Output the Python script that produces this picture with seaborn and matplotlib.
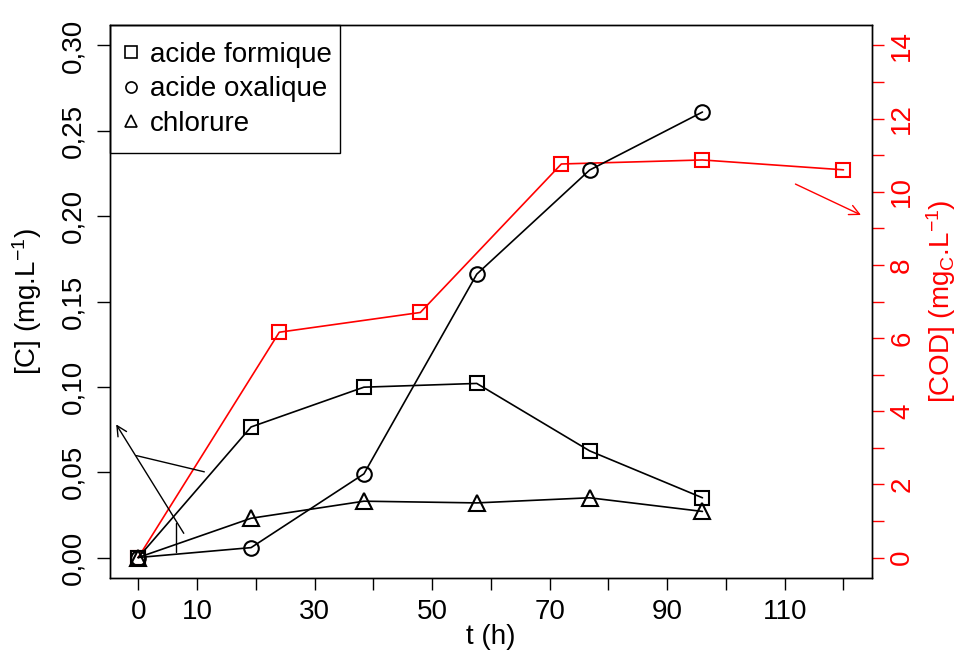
import matplotlib
matplotlib.use("Agg")
import matplotlib.pyplot as plt
import seaborn as sns
import numpy as np
from matplotlib.lines import Line2D
from matplotlib.patches import Rectangle

sns.set_theme(style="white")
plt.rcParams['font.family'] = ['Liberation Sans', 'DejaVu Sans']
plt.rcParams['mathtext.fontset'] = 'custom'
plt.rcParams['mathtext.rm'] = 'Liberation Sans'
plt.rcParams['mathtext.it'] = 'Liberation Sans'
for k in ['text.color', 'axes.labelcolor', 'xtick.color', 'ytick.color', 'axes.edgecolor']:
    plt.rcParams[k] = 'black'

# ---- data ----
t_black = [0, 19.2, 38.4, 57.6, 76.8, 96]
formique = [0.0, 0.0765, 0.0998, 0.102, 0.0625, 0.035]
oxalique = [0.0, 0.0058, 0.049, 0.166, 0.227, 0.261]
chlorure = [0.0, 0.023, 0.033, 0.032, 0.035, 0.027]

t_cod = [0, 24, 48, 72, 96, 120]
cod = [0.0, 6.16, 6.70, 10.76, 10.87, 10.6]

legend_labels = ["acide formique", "acide oxalique", "chlorure"]
x_ticks = list(range(0, 121, 10))
x_ticklabels = ["0", "10", "", "30", "", "50", "", "70", "", "90", "", "110", ""]
yl_ticks = [0.0, 0.05, 0.10, 0.15, 0.20, 0.25, 0.30]
yl_ticklabels = ["0,00", "0,05", "0,10", "0,15", "0,20", "0,25", "0,30"]
yr_major = [0, 2, 4, 6, 8, 10, 12, 14]
yr_minor = list(range(0, 15))

# annotation arrows (data coordinates)
arrow1 = ((8.0, 0.0128), (-4.0, 0.0794))
line2 = ((-0.3, 0.0597), (11.25, 0.0502))
line3 = ((6.5, 0.003), (6.5, 0.0204))
red_arrow = ((111.4, 0.2195), (123.4, 0.200))

W, H = 956, 659
L, R, T, B = 110, 871.7, 25, 578
fig = plt.figure(figsize=(W/100, H/100), dpi=100)
ax = fig.add_axes([L/W, 1-B/H, (R-L)/W, (B-T)/H])
ax2 = ax.twinx()
ax.set_zorder(ax2.get_zorder() + 1)
ax.patch.set_visible(False)

ms = 10
lw = 1.2
common = dict(color="black", linewidth=lw, markerfacecolor="none",
              markeredgewidth=1.5, markeredgecolor="black")
sns.lineplot(x=t_black, y=formique, marker="s", markersize=ms, ax=ax, **common)
sns.lineplot(x=t_black, y=oxalique, marker="o", markersize=ms + 0.5, ax=ax, **common)
sns.lineplot(x=t_black, y=chlorure, marker="^", markersize=ms + 2, ax=ax, **common)

ax.set_xlim(-4.8, 124.8)
ax.set_ylim(-0.012, 0.312)
ax.set_xticks(x_ticks)
ax.set_xticklabels(x_ticklabels)
ax.set_yticks(yl_ticks)
ax.set_yticklabels(yl_ticklabels, rotation=90, va="center")
ax.tick_params(axis="x", direction="out", length=8.8, width=1, labelsize=20, pad=6.3, bottom=True)
ax.tick_params(axis="y", direction="out", length=9.3, width=1, labelsize=20, pad=7.8, left=True)
ax.set_xlabel("t (h)", fontsize=20)
ax.xaxis.set_label_coords(0.5, -0.083)
ax.set_ylabel(r"[C] (mg.L$^{-1}$)", fontsize=20)
ax.yaxis.set_label_coords(-0.0866, 0.5)
for s in ax.spines.values():
    s.set_color("black")
    s.set_linewidth(1)

sns.lineplot(x=t_cod, y=cod, marker="s", ax=ax2, color="red", linewidth=lw,
             markersize=ms, markerfacecolor="none", markeredgewidth=1.5,
             markeredgecolor="red")
ax2.set_ylim(-0.012*14/0.3, 0.312*14/0.3)
ax2.set_yticks(yr_major)
ax2.set_yticks(yr_minor, minor=True)
ax2.set_yticklabels([str(v) for v in yr_major], rotation=90, va="center")
ax2.tick_params(axis="y", which="both", direction="out", length=8.6, width=1,
                colors="red", labelsize=20, pad=4, right=True)
ax2.set_ylabel(r"[COD] (mg$_{\mathrm{C}}$.L$^{-1}$)", fontsize=20, color="red")
ax2.yaxis.set_label_coords(1.0687, 0.5)
for name, s in ax2.spines.items():
    s.set_color("black")
    s.set_linewidth(1)

# arrows
ax.annotate("", xy=arrow1[1], xytext=arrow1[0],
            arrowprops=dict(arrowstyle="->", color="black", lw=1, mutation_scale=18))
ax.plot([line2[0][0], line2[1][0]], [line2[0][1], line2[1][1]], color="black", lw=1)
ax.plot([line3[0][0], line3[1][0]], [line3[0][1], line3[1][1]], color="black", lw=1)
ax.annotate("", xy=red_arrow[1], xytext=red_arrow[0],
            arrowprops=dict(arrowstyle="->", color="red", lw=1, mutation_scale=18))

handles = [Line2D([], [], marker=m, linestyle="none", markerfacecolor="none",
                  markeredgecolor="black", markersize=sz, markeredgewidth=1.2)
           for m, sz in zip(["s", "o", "^"], [8, 8, 9])]
leg = ax.legend(handles, legend_labels, loc="upper left", bbox_to_anchor=(0, 1),
                borderaxespad=0, frameon=False, fontsize=20, handlelength=0.31,
                handletextpad=0.53, labelspacing=0.31, borderpad=0.6)
leg.set_zorder(10)
ax.add_patch(Rectangle((0, (B-153)/(B-T)), (340-L)/(R-L), 1-(B-153)/(B-T),
                       transform=ax.transAxes, fill=False, edgecolor="black",
                       linewidth=1, zorder=11, clip_on=False))

fig.savefig("out.png", dpi=100)
